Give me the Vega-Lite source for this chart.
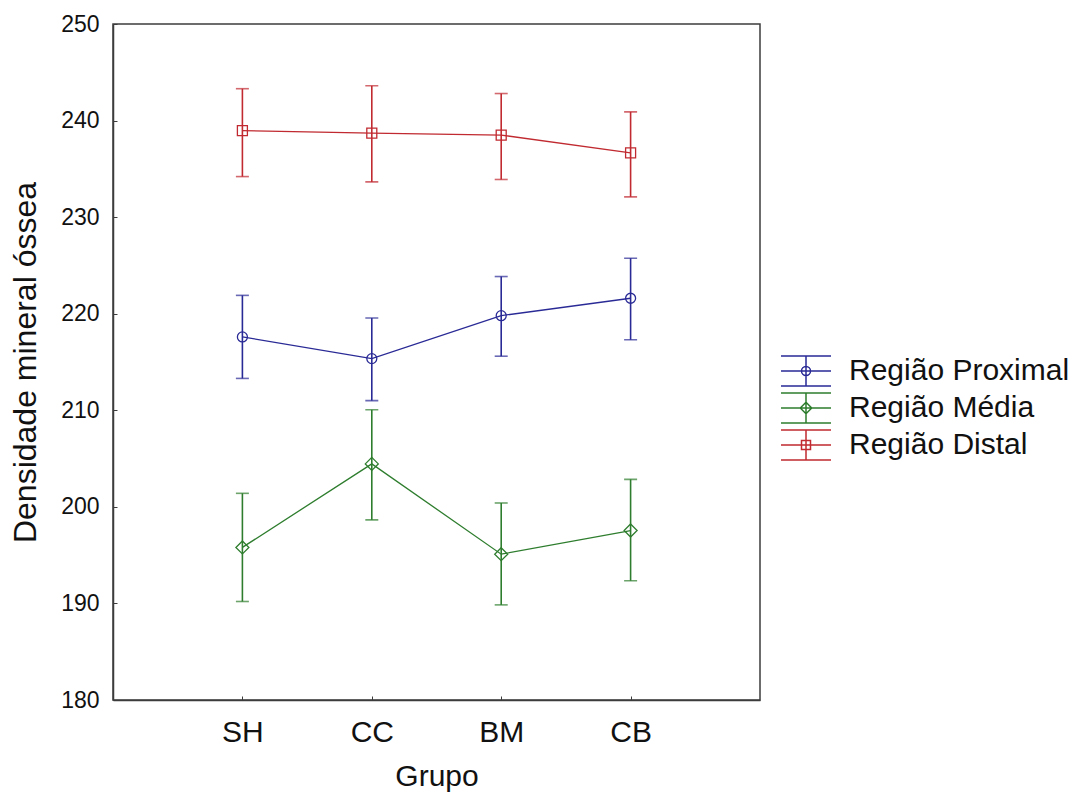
{
  "$schema": "https://vega.github.io/schema/vega-lite/v6.json",
  "autosize": {"type": "none"},
  "padding": {"left": 113, "top": 24, "right": 322, "bottom": 97},
  "width": 647,
  "height": 676,
  "background": "white",
  "config": {
    "font": "Liberation Sans",
    "view": {"stroke": "#3c3c3c", "strokeWidth": 1.5},
    "axis": {
      "grid": false,
      "domainColor": "#3c3c3c",
      "domainWidth": 1.5,
      "tickColor": "#3c3c3c",
      "tickSize": -4,
      "tickWidth": 1,
      "labelColor": "#111111",
      "titleColor": "#111111",
      "titleFontWeight": "normal",
      "labelFont": "Liberation Sans",
      "titleFont": "Liberation Sans"
    },
    "axisX": {"labelFontSize": 30, "titleFontSize": 30, "labelAngle": 0, "labelPadding": 21, "titlePadding": 14},
    "axisY": {"labelFontSize": 23, "titleFontSize": 32, "labelPadding": 18, "titlePadding": 18}
  },
  "data": {
    "values": [
      {"Grupo": "SH", "Regiao": "Região Proximal", "media": 217.6, "lo": 213.3, "hi": 221.9},
      {"Grupo": "CC", "Regiao": "Região Proximal", "media": 215.35, "lo": 211.0, "hi": 219.55},
      {"Grupo": "BM", "Regiao": "Região Proximal", "media": 219.8, "lo": 215.6, "hi": 223.85},
      {"Grupo": "CB", "Regiao": "Região Proximal", "media": 221.6, "lo": 217.3, "hi": 225.75},
      {"Grupo": "SH", "Regiao": "Região Média", "media": 195.8, "lo": 190.2, "hi": 201.4},
      {"Grupo": "CC", "Regiao": "Região Média", "media": 204.45, "lo": 198.65, "hi": 210.05},
      {"Grupo": "BM", "Regiao": "Região Média", "media": 195.1, "lo": 189.85, "hi": 200.4},
      {"Grupo": "CB", "Regiao": "Região Média", "media": 197.55, "lo": 192.35, "hi": 202.85},
      {"Grupo": "SH", "Regiao": "Região Distal", "media": 238.95, "lo": 234.2, "hi": 243.3},
      {"Grupo": "CC", "Regiao": "Região Distal", "media": 238.7, "lo": 233.65, "hi": 243.6},
      {"Grupo": "BM", "Regiao": "Região Distal", "media": 238.5, "lo": 233.9, "hi": 242.8},
      {"Grupo": "CB", "Regiao": "Região Distal", "media": 236.65, "lo": 232.1, "hi": 240.9}
    ]
  },
  "encoding": {
    "x": {
      "field": "Grupo",
      "type": "nominal",
      "title": "Grupo",
      "sort": ["SH", "CC", "BM", "CB"],
      "scale": {"type": "point", "padding": 1, "domain": ["SH", "CC", "BM", "CB"]}
    }
  },
  "layer": [
    {
      "mark": {"type": "rule", "strokeWidth": 1.6},
      "encoding": {
        "y": {"field": "lo", "type": "quantitative", "title": "Densidade mineral óssea", "scale": {"domain": [180, 250], "nice": false, "zero": false}, "axis": {"values": [180, 190, 200, 210, 220, 230, 240, 250]}},
        "y2": {"field": "hi"},
        "color": {"field": "Regiao", "type": "nominal", "scale": {"domain": ["Região Proximal", "Região Média", "Região Distal"], "range": ["#2a2a96", "#2e7d2e", "#c02a30"]}, "legend": null}
      }
    },
    {
      "mark": {"type": "tick", "size": 13, "thickness": 1.6, "orient": "horizontal"},
      "encoding": {
        "y": {"field": "lo", "type": "quantitative", "title": "Densidade mineral óssea", "scale": {"domain": [180, 250], "nice": false, "zero": false}, "axis": {"values": [180, 190, 200, 210, 220, 230, 240, 250]}},
        "color": {"field": "Regiao", "type": "nominal", "scale": {"domain": ["Região Proximal", "Região Média", "Região Distal"], "range": ["#2a2a96", "#2e7d2e", "#c02a30"]}, "legend": null}
      }
    },
    {
      "mark": {"type": "tick", "size": 13, "thickness": 1.6, "orient": "horizontal"},
      "encoding": {
        "y": {"field": "hi", "type": "quantitative", "title": "Densidade mineral óssea", "scale": {"domain": [180, 250], "nice": false, "zero": false}, "axis": {"values": [180, 190, 200, 210, 220, 230, 240, 250]}},
        "color": {"field": "Regiao", "type": "nominal", "scale": {"domain": ["Região Proximal", "Região Média", "Região Distal"], "range": ["#2a2a96", "#2e7d2e", "#c02a30"]}, "legend": null}
      }
    },
    {
      "mark": {"type": "line", "strokeWidth": 1.3},
      "encoding": {
        "y": {"field": "media", "type": "quantitative", "title": "Densidade mineral óssea", "scale": {"domain": [180, 250], "nice": false, "zero": false}, "axis": {"values": [180, 190, 200, 210, 220, 230, 240, 250]}},
        "color": {"field": "Regiao", "type": "nominal", "scale": {"domain": ["Região Proximal", "Região Média", "Região Distal"], "range": ["#2a2a96", "#2e7d2e", "#c02a30"]}, "legend": null}
      }
    },
    {
      "mark": {"type": "point", "filled": false, "strokeWidth": 1.3, "size": 100, "opacity": 1},
      "encoding": {
        "y": {"field": "media", "type": "quantitative", "title": "Densidade mineral óssea", "scale": {"domain": [180, 250], "nice": false, "zero": false}, "axis": {"values": [180, 190, 200, 210, 220, 230, 240, 250]}},
        "color": {"field": "Regiao", "type": "nominal", "scale": {"domain": ["Região Proximal", "Região Média", "Região Distal"], "range": ["#2a2a96", "#2e7d2e", "#c02a30"]}, "legend": null},
        "shape": {"field": "Regiao", "type": "nominal", "scale": {"domain": ["Região Proximal", "Região Média", "Região Distal"], "range": ["M1,0A1,1,0,1,1,-1,0A1,1,0,1,1,1,0Z", "M0,-1.3L1.3,0L0,1.3L-1.3,0Z", "M-1,-1H1V1H-1Z"]}, "legend": null}
      }
    },
    {
      "mark": {"type": "point", "filled": false, "strokeWidth": 1.5, "size": 900, "opacity": 0},
      "encoding": {
        "y": {"field": "media", "type": "quantitative", "title": "Densidade mineral óssea", "scale": {"domain": [180, 250], "nice": false, "zero": false}, "axis": {"values": [180, 190, 200, 210, 220, 230, 240, 250]}},
        "color": {
          "field": "Regiao", "type": "nominal",
          "scale": {"domain": ["Região Proximal", "Região Média", "Região Distal"], "range": ["#2a2a96", "#2e7d2e", "#c02a30"]},
          "legend": {"orient": "none", "legendX": 677, "legendY": 331, "title": null, "labelFontSize": 30, "labelColor": "#111111", "labelFont": "Liberation Sans", "symbolSize": 900, "symbolStrokeWidth": 1.5, "symbolOpacity": 1, "labelOffset": 27, "rowPadding": 1, "padding": 0, "labelLimit": 400}
        },
        "shape": {
          "field": "Regiao", "type": "nominal",
          "scale": {"domain": ["Região Proximal", "Região Média", "Região Distal"], "range": [
            "M-1.667,-1H1.667M-1.667,0H1.667M-1.667,1H1.667M0,-1V1M0.3,0A0.3,0.3,0,1,1,-0.3,0A0.3,0.3,0,1,1,0.3,0Z",
            "M-1.667,-1H1.667M-1.667,0H1.667M-1.667,1H1.667M0,-1V1M0,-0.38L0.38,0L0,0.38L-0.38,0Z",
            "M-1.667,-1H1.667M-1.667,0H1.667M-1.667,1H1.667M0,-1V1M-0.3,-0.3H0.3V0.3H-0.3Z"
          ]},
          "legend": {"orient": "none", "legendX": 677, "legendY": 331, "title": null, "labelFontSize": 30, "labelColor": "#111111", "labelFont": "Liberation Sans", "symbolSize": 900, "symbolStrokeWidth": 1.5, "symbolOpacity": 1, "labelOffset": 27, "rowPadding": 1, "padding": 0, "labelLimit": 400}
        }
      }
    }
  ],
  "resolve": {"scale": {"color": "independent", "shape": "independent"}}
}
